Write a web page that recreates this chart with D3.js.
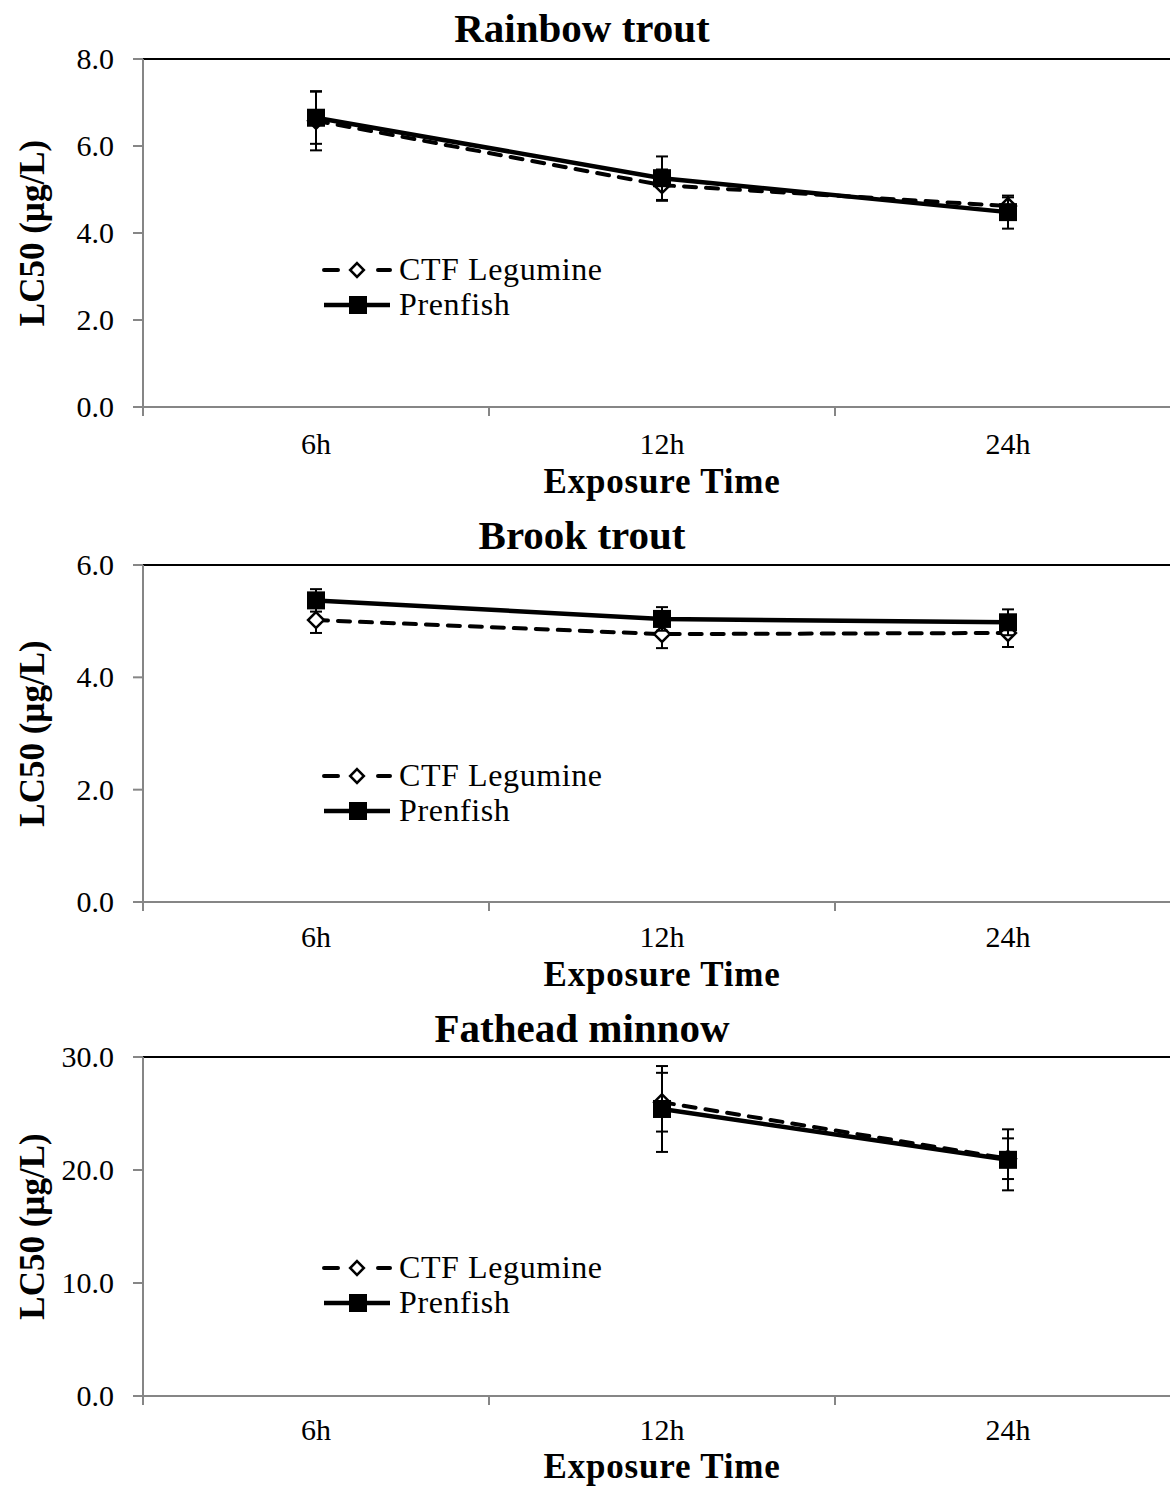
<!DOCTYPE html>
<html>
<head>
<meta charset="utf-8">
<script src="https://cdn.jsdelivr.net/npm/d3@7"></script>
<style>
  html, body { margin: 0; padding: 0; background: #fff; }
  svg { display: block; font-family: "Liberation Serif", "Times New Roman", serif; }
</style>
</head>
<body>
<svg id="chart" width="1170" height="1487"></svg>
<script>
// ---- data ----
const times = ["6h", "12h", "24h"];
const species = ["Rainbow trout", "Brook trout", "Fathead minnow"];
const yMaxes = [8, 6, 30];
const yTickSteps = [2, 2, 10];

const ctfLegumine    = [[6.58, 5.10, 4.62], [5.02, 4.77, 4.79], [null, 26.0, 21.0]];
const ctfLegumineErr = [[0.68, 0.36, 0.20], [0.23, 0.25, 0.25], [null, 2.6, 1.8]];
const prenfish       = [[6.65, 5.26, 4.48], [5.37, 5.04, 4.98], [null, 25.4, 20.9]];
const prenfishErr    = [[0.60, 0.50, 0.38], [0.20, 0.21, 0.23], [null, 3.8, 2.7]];

const seriesNames = ["CTF Legumine", "Prenfish"];

// ---- layout ----
const panels = [
  { top: 59,   bottom: 407,  titleY: 42,   tickY: 454,  labelY: 493 },
  { top: 565,  bottom: 902,  titleY: 549,  tickY: 947,  labelY: 986 },
  { top: 1057, bottom: 1396, titleY: 1042, tickY: 1440, labelY: 1478 }
];
const plotLeft = 143, plotRight = 1181;

const svg = d3.select("#chart");

const x = d3.scaleBand().domain(times).range([plotLeft, plotRight]);

panels.forEach((p, i) => {
  const g = svg.append("g");
  const y = d3.scaleLinear().domain([0, yMaxes[i]]).range([p.bottom, p.top]);
  const ticks = d3.range(0, yMaxes[i] + 1e-9, yTickSteps[i]);

  // top border line
  g.append("line")
    .attr("x1", plotLeft).attr("x2", plotRight)
    .attr("y1", p.top).attr("y2", p.top)
    .attr("stroke", "#000").attr("stroke-width", 2);

  // y axis
  g.append("line")
    .attr("x1", plotLeft).attr("x2", plotLeft)
    .attr("y1", p.top).attr("y2", p.bottom)
    .attr("stroke", "#868686").attr("stroke-width", 2);
  g.selectAll(".ytick").data(ticks).join("line")
    .attr("x1", plotLeft - 10).attr("x2", plotLeft)
    .attr("y1", d => y(d)).attr("y2", d => y(d))
    .attr("stroke", "#868686").attr("stroke-width", 2);
  g.selectAll(".ylab").data(ticks).join("text")
    .attr("x", 114).attr("y", d => y(d) + 10)
    .attr("text-anchor", "end")
    .attr("font-size", 30)
    .text(d => d.toFixed(1));

  // x axis
  g.append("line")
    .attr("x1", plotLeft).attr("x2", plotRight)
    .attr("y1", p.bottom).attr("y2", p.bottom)
    .attr("stroke", "#868686").attr("stroke-width", 2);
  const bounds = [plotLeft].concat(times.map(t => x(t) + x.bandwidth()));
  g.selectAll(".xtick").data(bounds).join("line")
    .attr("x1", d => d).attr("x2", d => d)
    .attr("y1", p.bottom).attr("y2", p.bottom + 9)
    .attr("stroke", "#868686").attr("stroke-width", 2);
  g.selectAll(".xlab").data(times).join("text")
    .attr("x", d => x(d) + x.bandwidth() / 2).attr("y", p.tickY)
    .attr("text-anchor", "middle")
    .attr("font-size", 30)
    .text(d => d);

  g.append("text")
    .attr("x", 662).attr("y", p.labelY)
    .attr("text-anchor", "middle")
    .attr("font-size", 35).attr("font-weight", "bold")
    .attr("letter-spacing", 0.8)
    .text("Exposure Time");

  g.append("text")
    .attr("x", 582).attr("y", p.titleY)
    .attr("text-anchor", "middle")
    .attr("font-size", 41).attr("font-weight", "bold")
    .text(species[i]);

  g.append("text")
    .attr("transform", `translate(44, ${(p.top + p.bottom) / 2}) rotate(-90)`)
    .attr("text-anchor", "middle")
    .attr("font-size", 35).attr("font-weight", "bold")
    .text("LC50 (µg/L)");

  // series
  const allSeries = [
    { vals: ctfLegumine[i], errs: ctfLegumineErr[i], dash: "12,10", marker: "diamond" },
    { vals: prenfish[i], errs: prenfishErr[i], dash: null, marker: "square" }
  ];
  const cx = t => x(t) + x.bandwidth() / 2;

  allSeries.forEach(s => {
    const pts = times.map((t, k) => ({ t, v: s.vals[k], e: s.errs[k] })).filter(d => d.v != null);

    // error bars
    const eb = g.append("g").selectAll("g").data(pts).join("g");
    eb.append("line")
      .attr("x1", d => cx(d.t)).attr("x2", d => cx(d.t))
      .attr("y1", d => y(d.v - d.e)).attr("y2", d => y(d.v + d.e))
      .attr("stroke", "#000").attr("stroke-width", 2);
    eb.selectAll(".cap").data(d => [[d.t, d.v - d.e], [d.t, d.v + d.e]]).join("line")
      .attr("x1", d => cx(d[0]) - 6).attr("x2", d => cx(d[0]) + 6)
      .attr("y1", d => y(d[1])).attr("y2", d => y(d[1]))
      .attr("stroke", "#000").attr("stroke-width", 2);

    const line = d3.line().x(d => cx(d.t)).y(d => y(d.v));
    g.append("path")
      .datum(pts)
      .attr("d", line)
      .attr("fill", "none")
      .attr("stroke", "#000")
      .attr("stroke-width", s.dash ? 4 : 4.5)
      .attr("stroke-linecap", s.dash ? "round" : "butt")
      .attr("stroke-dasharray", s.dash);

    if (s.marker === "square") {
      g.selectAll(null).data(pts).join("rect")
        .attr("x", d => cx(d.t) - 9).attr("y", d => y(d.v) - 9)
        .attr("width", 18).attr("height", 18)
        .attr("fill", "#000");
    } else {
      g.selectAll(null).data(pts).join("path")
        .attr("d", d3.symbol(d3.symbolDiamond2, 160))
        .attr("transform", d => `translate(${cx(d.t)},${y(d.v)})`)
        .attr("fill", "#fff").attr("stroke", "#000").attr("stroke-width", 2.5);
    }
  });

  // legend
  const lg = g.append("g").attr("transform", `translate(322, ${p.top + 211})`);
  seriesNames.forEach((name, k) => {
    const row = lg.append("g").attr("transform", `translate(0, ${k * 35})`);
    row.append("line")
      .attr("x1", 2).attr("x2", 68).attr("y1", 0).attr("y2", 0)
      .attr("stroke", "#000").attr("stroke-width", k === 0 ? 4 : 4.5)
      .attr("stroke-dasharray", k === 0 ? "14,40" : null)
      .attr("stroke-linecap", k === 0 ? "round" : "butt");
    if (k === 0) {
      row.append("path")
        .attr("d", d3.symbol(d3.symbolDiamond2, 120))
        .attr("transform", "translate(35,0)")
        .attr("fill", "#fff").attr("stroke", "#000").attr("stroke-width", 2.5);
    } else {
      row.append("rect").attr("x", 27).attr("y", -9).attr("width", 18).attr("height", 18).attr("fill", "#000");
    }
    row.append("text")
      .attr("x", 77).attr("y", 10)
      .attr("font-size", 32)
      .attr("letter-spacing", 0.6)
      .text(name);
  });
});
</script>
</body>
</html>
